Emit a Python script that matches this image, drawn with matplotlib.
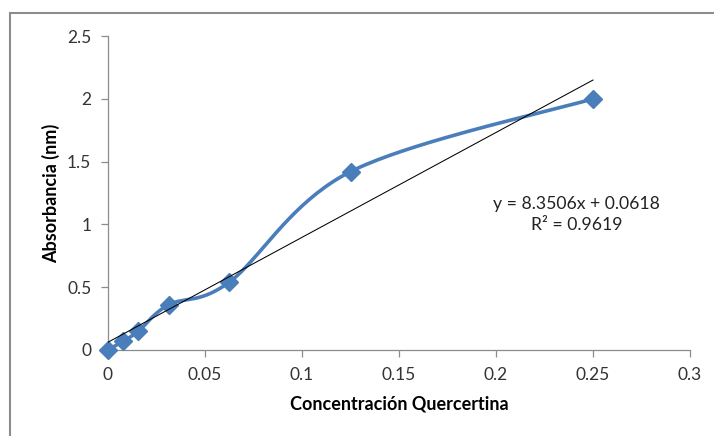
import numpy as np
import matplotlib
matplotlib.use("Agg")
import matplotlib.pyplot as plt
from matplotlib.patches import Rectangle

# quercetin calibration data
conc = [0, 0.0078125, 0.015625, 0.03125, 0.0625, 0.125, 0.25]
absorb = [0, 0.07, 0.15, 0.36, 0.54, 1.42, 2.0]

slope = 8.3506
intercept = 0.0618
r2 = 0.9619

x_ticks = [0, 0.05, 0.1, 0.15, 0.2, 0.25, 0.3]
x_labels = ["0", "0.05", "0.1", "0.15", "0.2", "0.25", "0.3"]
y_ticks = [0, 0.5, 1, 1.5, 2, 2.5]
y_labels = ["0", "0.5", "1", "1.5", "2", "2.5"]

blue = "#4A7EBB"
plt.rcParams['font.family'] = ['Lato', 'DejaVu Sans']


def smooth_curve(ax, xs, ys, n=40):
    # Catmull-Rom style bezier smoothing, done in display space
    pts = ax.transData.transform(np.column_stack([xs, ys]))
    out = []
    m = len(pts)
    for i in range(m - 1):
        p0 = pts[i - 1] if i > 0 else pts[i]
        p1 = pts[i]
        p2 = pts[i + 1]
        p3 = pts[i + 2] if i + 2 < m else pts[i + 1]
        c1 = p1 + (p2 - p0) / 6.0
        c2 = p2 - (p3 - p1) / 6.0
        t = np.linspace(0, 1, n)[:, None]
        seg = ((1 - t) ** 3 * p1 + 3 * (1 - t) ** 2 * t * c1
               + 3 * (1 - t) * t ** 2 * c2 + t ** 3 * p2)
        out.append(seg if i == 0 else seg[1:])
    out = np.vstack(out)
    return ax.transData.inverted().transform(out)


fig = plt.figure(figsize=(7.14, 4.36), dpi=100)
fig.patches.append(Rectangle((10 / 714, -0.05), 1.1, 1 - 13 / 436 + 0.05,
                             transform=fig.transFigure, fill=False,
                             edgecolor="#8c8c8c", lw=1.5))

ax = fig.add_axes([108 / 714, 1 - 350 / 436, 582 / 714, 314 / 436])
ax.set_xlim(0, 0.3)
ax.set_ylim(0, 2.5)

curve = smooth_curve(ax, conc, absorb)
ax.plot(curve[:, 0], curve[:, 1], color=blue, lw=2.6, zorder=3,
        solid_capstyle="round")
ax.plot(conc, absorb, linestyle="none", marker="D", ms=9.5, color=blue,
        markeredgecolor=blue, zorder=4, clip_on=False)

# linear trendline
tx = np.array([0, conc[-1]])
ax.plot(tx, slope * tx + intercept, color="black", lw=0.75, zorder=5)

ax.text(0.2415, 1.08, "y = %.4fx + %.4f\nR² = %.4f" % (slope, intercept, r2),
        ha="center", va="center", fontsize=12.7, color="#222222",
        linespacing=1.35, multialignment="center")

ax.set_xticks(x_ticks)
ax.set_xticklabels(x_labels)
ax.set_yticks(y_ticks)
ax.set_yticklabels(y_labels)

for s in ["top", "right"]:
    ax.spines[s].set_visible(False)
for s in ["left", "bottom"]:
    ax.spines[s].set_color("#8c8c8c")
    ax.spines[s].set_linewidth(0.9)
ax.tick_params(direction="out", length=5, width=0.9, color="#8c8c8c",
               labelsize=12.5, labelcolor="#333333", pad=7)

ax.set_xlabel("Concentración Quercertina", fontsize=13, fontweight="bold",
              labelpad=9)
ax.set_ylabel("Absorbancia (nm)", fontsize=13, fontweight="bold",
              labelpad=5)

fig.savefig("out.png", dpi=100)
